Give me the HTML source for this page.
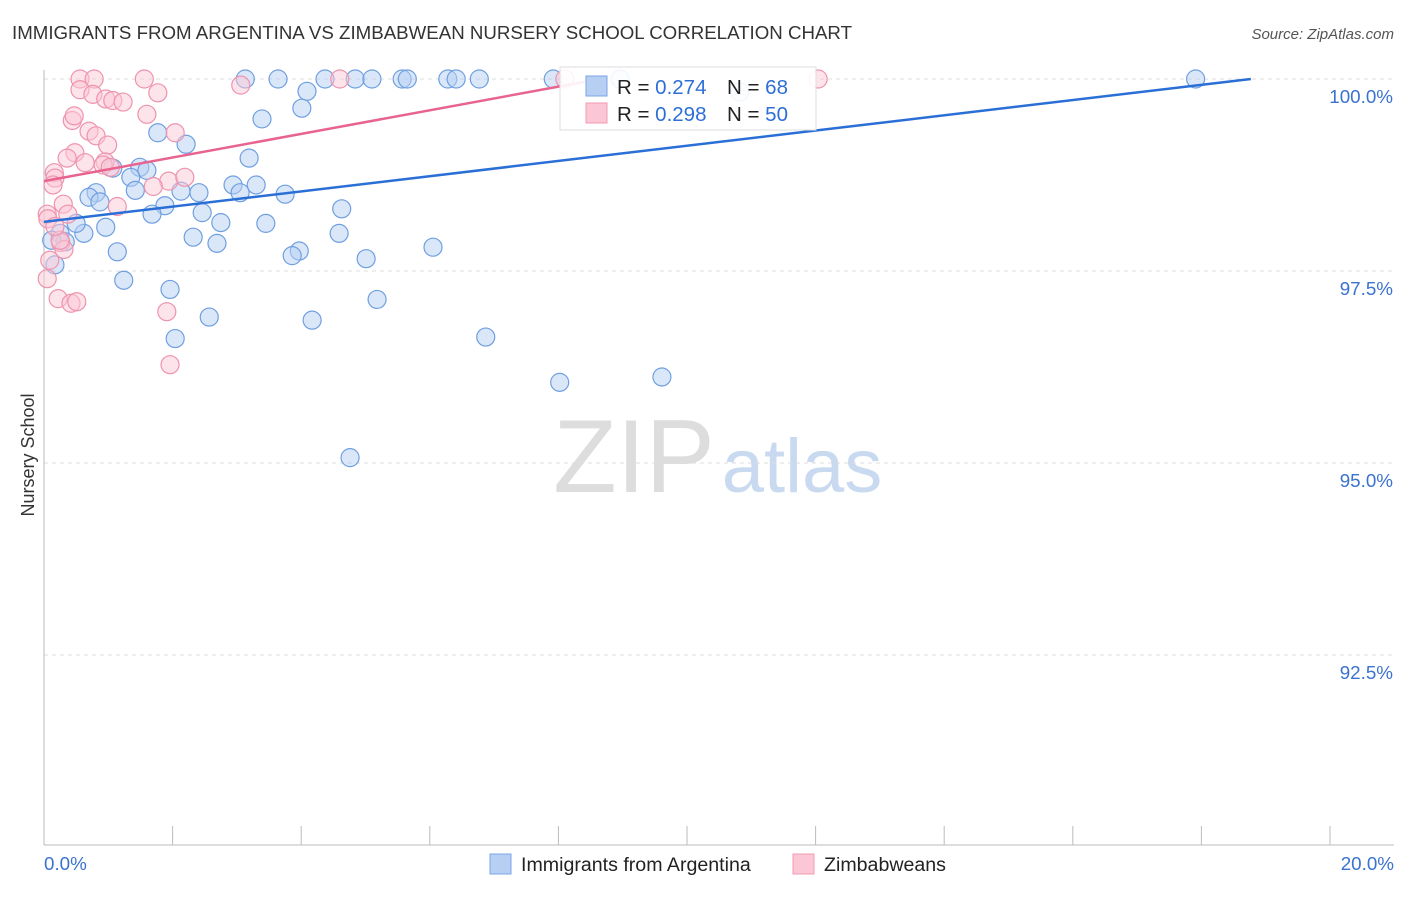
<!DOCTYPE html>
<html><head><meta charset="utf-8"><style>
body{margin:0;background:#fff;font-family:"Liberation Sans",sans-serif}
svg text{font-family:"Liberation Sans",sans-serif}
</style></head><body>
<svg id="c" width="1406" height="892">
<text x="12" y="39" font-size="18.7" fill="#333">IMMIGRANTS FROM ARGENTINA VS ZIMBABWEAN NURSERY SCHOOL CORRELATION CHART</text>
<text x="1394" y="39" font-size="15" fill="#555" text-anchor="end" font-style="italic">Source: ZipAtlas.com</text>
<text x="634" y="492" font-size="104" fill="#ddd" font-family="Liberation Serif" text-anchor="middle">ZIP</text>
<text x="802" y="492" font-size="76" fill="#c9daf0" text-anchor="middle">atlas</text>
<text transform="translate(34,455) rotate(-90)" font-size="18" fill="#333" text-anchor="middle">Nursery School</text>
<g id="grid"></g><g id="pts"></g><g id="lines"></g>
<g>
<rect x="560" y="67" width="256" height="63" fill="#fff" fill-opacity="0.9" stroke="#ddd"/>
<rect x="586" y="76" width="21" height="20" fill="#b6cff3" stroke="#7aa6e6"/>
<rect x="586" y="103" width="21" height="20" fill="#fbc7d6" stroke="#f09ab3"/>
<text x="617" y="94" font-size="20.5" fill="#222">R = <tspan fill="#2d6fd6">0.274</tspan></text>
<text x="727" y="94" font-size="20.5" fill="#222">N = <tspan fill="#2d6fd6"> 68</tspan></text>
<text x="617" y="121" font-size="20.5" fill="#222">R = <tspan fill="#2d6fd6">0.298</tspan></text>
<text x="727" y="121" font-size="20.5" fill="#222">N = <tspan fill="#2d6fd6">50</tspan></text>
</g>
<g>
<rect x="490" y="854" width="21" height="20" fill="#b6cff3" stroke="#7aa6e6"/>
<text x="521" y="871" font-size="19.6" fill="#222">Immigrants from Argentina</text>
<rect x="793" y="854" width="21" height="20" fill="#fbc7d6" stroke="#f09ab3"/>
<text x="824" y="871" font-size="19.6" fill="#222">Zimbabweans</text>
</g>
</svg>
<script>
const yTicks=[100,97.5,95,92.5];
const yTickLabels=["100.0%","97.5%","95.0%","92.5%"];
const xTickLabels=["0.0%","20.0%"];
const blueX=[3.13,3.64,4.37,4.84,5.1,5.57,5.65,6.28,6.41,6.77,7.92,8.96,10.82,17.91,4.09,4.01,3.39,1.77,2.21,3.19,1.07,1.49,1.6,1.35,1.42,0.81,0.7,0.87,2.13,2.41,2.94,3.3,3.05,3.75,1.88,1.68,2.46,4.63,2.75,3.45,0.96,0.62,0.5,0.25,0.33,0.12,2.32,2.69,4.59,3.97,3.86,1.14,5.01,6.05,0.17,1.24,1.96,5.18,2.57,4.17,2.04,6.87,8.02,9.61,4.76];
const blueY=[100,100,100,100,100,100,100,100,100,100,100,100,99.83,100,99.84,99.62,99.48,99.3,99.15,98.97,98.84,98.85,98.81,98.72,98.55,98.52,98.46,98.4,98.54,98.52,98.62,98.62,98.52,98.5,98.35,98.24,98.26,98.31,98.13,98.12,98.07,97.99,98.12,97.99,97.88,97.9,97.94,97.86,97.99,97.76,97.7,97.75,97.66,97.81,97.58,97.38,97.26,97.13,96.9,96.86,96.62,96.64,96.05,96.12,95.07];
const pinkX=[0.56,0.78,1.56,4.6,8.1,12.04,3.06,0.56,0.76,0.96,1.07,1.23,1.77,1.6,0.44,0.47,0.7,0.81,0.99,2.04,0.48,0.36,0.64,0.95,0.92,1.03,0.16,0.17,0.14,1.94,2.19,1.7,1.14,0.3,0.37,0.05,0.06,0.26,0.31,0.05,0.22,0.42,0.51,1.91,1.96,0.09,0.25,0.17];
const pinkY=[100,100,100,100,100,100,99.92,99.86,99.8,99.74,99.72,99.7,99.82,99.54,99.46,99.52,99.32,99.26,99.14,99.3,99.04,98.97,98.91,98.92,98.88,98.85,98.78,98.71,98.62,98.67,98.72,98.6,98.34,98.37,98.24,98.24,98.18,97.87,97.78,97.4,97.14,97.08,97.1,96.97,96.28,97.64,97.9,98.08];
const blueFit=[98.14,0.0991];const pinkFit=[98.67,0.1538];
const X=v=>44+v*64.3, Y=v=>79+(100-v)*76.8;
const NS="http://www.w3.org/2000/svg";
function mk(t,a,p){const e=document.createElementNS(NS,t);for(const k in a)e.setAttribute(k,a[k]);p.appendChild(e);return e;}
const grid=document.getElementById('grid'),pts=document.getElementById('pts'),lines=document.getElementById('lines');
yTicks.forEach((v,i)=>{
 const l=mk('line',{x1:44,x2:1394,y1:Y(v),y2:Y(v),stroke:'#ddd','stroke-dasharray':'4,4'},grid);
 
 
 const t=mk('text',{x:1393,y:Y(v)+24,'font-size':18.8,fill:'#3a72d0','text-anchor':'end'},grid);t.textContent=yTickLabels[i];
 
 
});
const ax=mk('line',{x1:44,x2:44,y1:70,y2:845,stroke:'#bbb'},grid);


const bx=mk('line',{x1:44,x2:1394,y1:845,y2:845,stroke:'#bbb'},grid);


for(let i=1;i<=10;i++){const t=mk('line',{x1:X(i*2),x2:X(i*2),y1:826,y2:845,stroke:'#bbb'},grid);
 
 }
[[0,'start',44],[20,'end',1394]].forEach((a,i)=>{const t=mk('text',{x:a[2],y:870,'font-size':18.8,fill:'#3a72d0','text-anchor':a[1]},grid);t.textContent=xTickLabels[i];
 
 });
function dots(xs,ys,f,s,name){xs.forEach((x,i)=>{const c=mk('circle',{cx:X(x),cy:Y(ys[i]),r:9,fill:f,'fill-opacity':0.5,stroke:s,'stroke-width':1.2},pts);
 
 });}
dots(blueX,blueY,'#b6cff3','#6f9fe0','argentina-point');
dots(pinkX,pinkY,'#fbc7d6','#ee93ae','zimbabwe-point');
function fit(f,col,name){const xe=Math.min(20.5,(100-f[0])/f[1]);const l=mk('line',{x1:X(0),y1:Y(f[0]),x2:X(xe),y2:Y(f[0]+f[1]*xe),stroke:col,'stroke-width':2.5},lines);
 
 }
fit(blueFit,'#2a6fd6','argentina-trend-line');
fit(pinkFit,'#e8648f','zimbabwe-trend-line');
</script>
</body></html>
